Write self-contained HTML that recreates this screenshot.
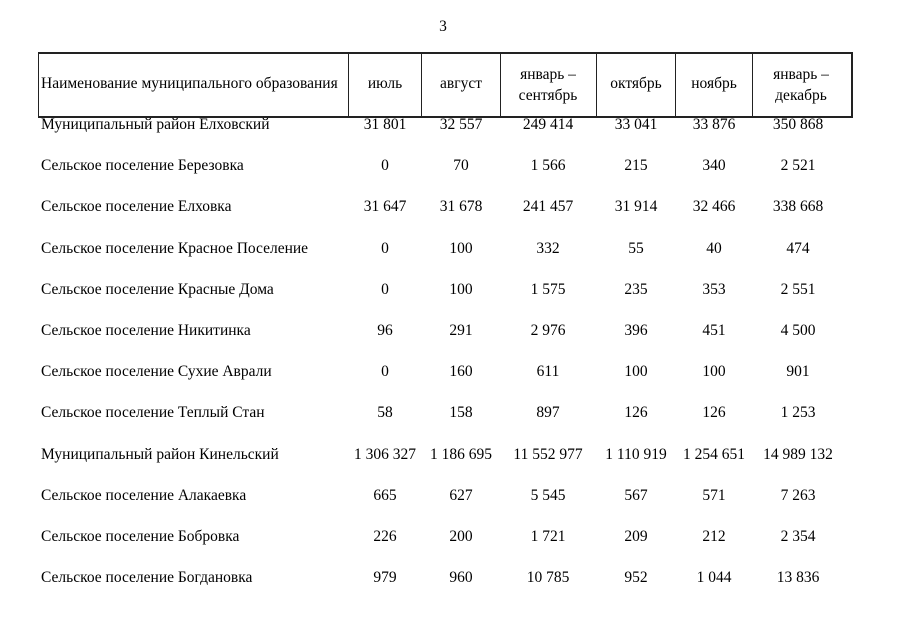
<!DOCTYPE html>
<html><head><meta charset="utf-8"><style>
body{margin:0;width:905px;height:640px;background:#fff;position:relative;overflow:hidden;font-family:"Liberation Serif",serif;font-size:15.5px;color:#000}
.t{position:absolute;white-space:nowrap;line-height:18px}
.c{position:absolute;white-space:nowrap;line-height:18px;transform:translateX(-50%);text-align:center}
.h{line-height:21px}
.b{position:absolute;background:#222}
</style></head><body>
<div class="c" style="left:443px;top:18px">3</div>
<div class="b" style="left:38px;top:52px;width:814px;height:2px"></div>
<div class="b" style="left:38px;top:116px;width:814px;height:2px"></div>
<div class="b" style="left:38px;top:52px;width:1px;height:66px"></div>
<div class="b" style="left:851px;top:52px;width:2px;height:66px"></div>
<div class="b" style="left:348px;top:52px;width:1px;height:66px"></div>
<div class="b" style="left:421px;top:52px;width:1px;height:66px"></div>
<div class="b" style="left:500px;top:52px;width:1px;height:66px"></div>
<div class="b" style="left:596px;top:52px;width:1px;height:66px"></div>
<div class="b" style="left:675px;top:52px;width:1px;height:66px"></div>
<div class="b" style="left:752px;top:52px;width:1px;height:66px"></div>
<div class="t" style="left:41px;top:75px">Наименование муниципального образования</div>
<div class="c" style="left:385px;top:75px">июль</div>
<div class="c" style="left:461px;top:75px">август</div>
<div class="c h" style="left:548px;top:64px">январь –<br>сентябрь</div>
<div class="c" style="left:636px;top:75px">октябрь</div>
<div class="c" style="left:714px;top:75px">ноябрь</div>
<div class="c h" style="left:801px;top:64px">январь –<br>декабрь</div>
<div id="rows"></div>
<script>
var d=[["Муниципальный район Елховский","31 801","32 557","249 414","33 041","33 876","350 868"],
["Сельское поселение Березовка","0","70","1 566","215","340","2 521"],
["Сельское поселение Елховка","31 647","31 678","241 457","31 914","32 466","338 668"],
["Сельское поселение Красное Поселение","0","100","332","55","40","474"],
["Сельское поселение Красные Дома","0","100","1 575","235","353","2 551"],
["Сельское поселение Никитинка","96","291","2 976","396","451","4 500"],
["Сельское поселение Сухие Аврали","0","160","611","100","100","901"],
["Сельское поселение Теплый Стан","58","158","897","126","126","1 253"],
["Муниципальный район Кинельский","1 306 327","1 186 695","11 552 977","1 110 919","1 254 651","14 989 132"],
["Сельское поселение Алакаевка","665","627","5 545","567","571","7 263"],
["Сельское поселение Бобровка","226","200","1 721","209","212","2 354"],
["Сельское поселение Богдановка","979","960","10 785","952","1 044","13 836"]];
var x=[385,461,548,636,714,798],h="";
d.forEach(function(r,i){var y=116+i*41.2;h+='<div class="t" style="left:41px;top:'+y+'px">'+r[0]+'</div>';
for(var j=1;j<7;j++)h+='<div class="c" style="left:'+x[j-1]+'px;top:'+y+'px">'+r[j]+'</div>';});
document.getElementById("rows").innerHTML=h;
</script>
</body></html>
